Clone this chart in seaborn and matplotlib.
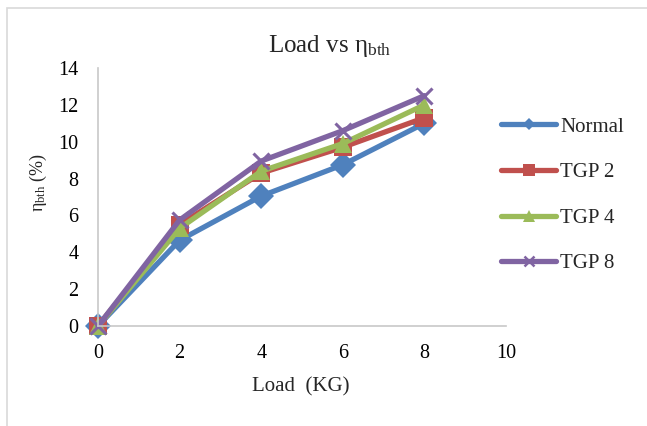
import matplotlib
matplotlib.use("Agg")
import matplotlib.pyplot as plt
import seaborn as sns
import pandas as pd
from matplotlib.patches import Rectangle
from matplotlib.lines import Line2D

load = [0, 2, 4, 6, 8]
normal = [0, 4.65, 7.05, 8.75, 11.0]
tgp2 = [0, 5.5, 8.3, 9.7, 11.3]
tgp4 = [0, 5.3, 8.4, 9.9, 12.0]
tgp8 = [0, 5.75, 8.95, 10.6, 12.5]
series_names = ["Normal", "TGP 2", "TGP 4", "TGP 8"]
colors = ["#4F81BD", "#C0504D", "#9BBB59", "#8064A2"]
markers = ["D", "s", "^", "x"]

sns.set_theme(style="white")
plt.rcParams["font.family"] = ["Liberation Serif", "DejaVu Serif"]
plt.rcParams["mathtext.fontset"] = "custom"
plt.rcParams["mathtext.rm"] = "Liberation Serif"
plt.rcParams["mathtext.it"] = "Liberation Serif:italic"

W, H = 647, 426
fig = plt.figure(figsize=(6.47, 4.26), dpi=100)
ax = fig.add_axes([98 / W, 1 - 326 / H, (506 - 98) / W, (326 - 68) / H])

for name, vals, c, m in zip(series_names, [normal, tgp2, tgp4, tgp8], colors, markers):
    df = pd.DataFrame({"Load": load, "eta": vals})
    if m == "x":
        kw = dict(markersize=12, markeredgewidth=2.2, markeredgecolor=c)
    else:
        kw = dict(markersize=13, markeredgewidth=0)
    sns.lineplot(data=df, x="Load", y="eta", color=c, marker=m, linewidth=3.8,
                 ax=ax, clip_on=False, **kw)

ax.set_xlim(0, 10)
ax.set_ylim(0, 14)
ax.set_xticks(range(0, 11, 2))
ax.set_yticks(range(0, 15, 2))
ax.tick_params(axis="both", labelsize=14.5, length=0, colors="black")
ax.tick_params(axis="x", pad=13)
ax.tick_params(axis="y", pad=14)
for sp in ["top", "right"]:
    ax.spines[sp].set_visible(False)
for sp in ["left", "bottom"]:
    ax.spines[sp].set_color("#C8C8C8")
    ax.spines[sp].set_linewidth(1.2)

ax.set_xlabel("")
ax.set_ylabel("")
fig.text(301 / W, 1 - 387 / H, "Load  (KG)", fontsize=15, ha="center", va="center")
fig.text(38 / W, 1 - 183 / H, r"η$_{\mathrm{bth}}$ (%)", fontsize=13, rotation=90,
         ha="center", va="center")
fig.text(330 / W, 1 - 52 / H, r"Load vs η$_{\mathrm{bth}}$", fontsize=18,
         ha="center", va="baseline")

handles = []
for name, c, m in zip(series_names, colors, markers):
    if m == "x":
        h = Line2D([], [], color=c, lw=3.8, marker=m, markersize=7, markeredgewidth=1.8, markeredgecolor=c)
    elif m == "D":
        h = Line2D([], [], color=c, lw=3.8, marker=m, markersize=6, markeredgewidth=0)
    else:
        h = Line2D([], [], color=c, lw=3.8, marker=m, markersize=8.5, markeredgewidth=0)
    handles.append(h)
fig.legend(handles, series_names, loc="upper left", bbox_to_anchor=(501 / W, 1 - 117 / H),
           frameon=False, fontsize=15, handlelength=2.65, handletextpad=0.2,
           labelspacing=1.25, borderaxespad=0, borderpad=0)

fig.patches.append(Rectangle((7 / W, -0.1), 1.2, 1 - 8 / H + 0.1, transform=fig.transFigure,
                             fill=False, edgecolor="#D9D9D9", linewidth=1.2))

fig.savefig("out.png", dpi=100)
